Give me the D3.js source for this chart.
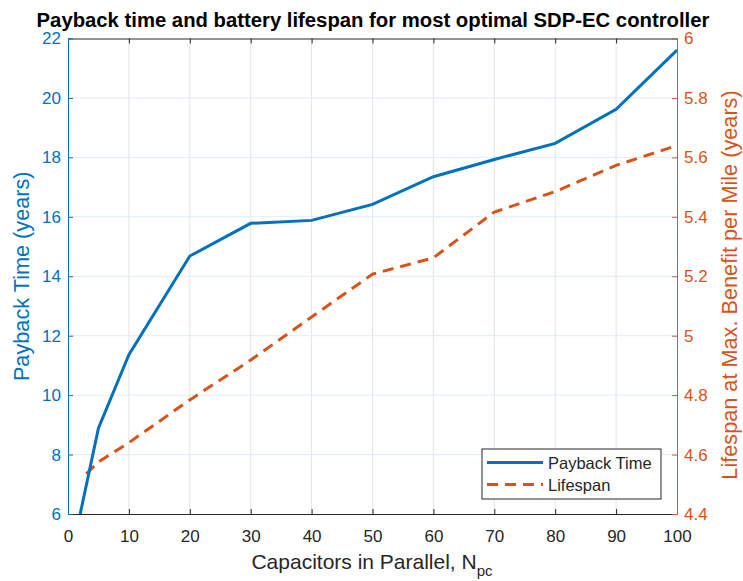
<!DOCTYPE html>
<html>
<head>
<meta charset="utf-8">
<script src="https://cdn.jsdelivr.net/npm/d3@7"></script>
<style>
  body { margin: 0; background: #fff; }
  text { font-family: "Liberation Sans", Arial, Helvetica, sans-serif; }
</style>
</head>
<body>
<svg id="chart" width="743" height="581"></svg>
<script>
// Data.
var paybackN = [2, 5, 10, 20, 30, 40, 50, 60, 70, 80, 90, 100];
var paybackTime = [6.0, 8.89, 11.36, 14.68, 15.78, 15.88, 16.42, 17.35, 17.93, 18.47, 19.62, 21.61];
var lifespanN = [3, 5, 10, 20, 30, 40, 50, 60, 70, 80, 90, 100];
var lifespanYears = [4.535, 4.575, 4.64, 4.784, 4.918, 5.063, 5.207, 5.262, 5.416, 5.485, 5.573, 5.64];
var xTicks = [0, 10, 20, 30, 40, 50, 60, 70, 80, 90, 100];
var leftTicks = [6, 8, 10, 12, 14, 16, 18, 20, 22];
var rightTicks = [4.4, 4.6, 4.8, 5, 5.2, 5.4, 5.6, 5.8, 6];
var legendNames = ['Payback Time', 'Lifespan'];

var BLUE = '#0072BD';
var ORANGE = '#D95319';
var DARK = '#262626';

var svg = d3.select('#chart');
var margin = {left: 68, right: 66, top: 38.5, bottom: 67};
var W = 743, H = 581;

var x = d3.scaleLinear().domain([0, 100]).range([margin.left, W - margin.right]);
var yL = d3.scaleLinear().domain([6, 22]).range([H - margin.bottom, margin.top]);
var yR = d3.scaleLinear().domain([4.4, 6]).range([H - margin.bottom, margin.top]);

var x0 = margin.left, x1 = W - margin.right;
var y0 = H - margin.bottom, y1 = margin.top;

// Grid lines.
svg.append('g').selectAll('line').data(xTicks.slice(1, -1)).enter().append('line')
  .attr('x1', function(d){ return x(d); }).attr('x2', function(d){ return x(d); })
  .attr('y1', y0).attr('y2', y1)
  .attr('stroke', '#e2e4e8').attr('stroke-width', 1);
svg.append('g').selectAll('line').data(leftTicks.slice(1, -1)).enter().append('line')
  .attr('x1', x0).attr('x2', x1)
  .attr('y1', function(d){ return yL(d); }).attr('y2', function(d){ return yL(d); })
  .attr('stroke', '#e0ebf4').attr('stroke-width', 1);

// Clip to plot area.
svg.append('clipPath').attr('id', 'clip').append('rect')
  .attr('x', x0).attr('y', y1).attr('width', x1 - x0).attr('height', y0 - y1);

var plot = svg.append('g').attr('clip-path', 'url(#clip)');

var lineL = d3.line()
  .x(function(d, i){ return x(paybackN[i]); })
  .y(function(d){ return yL(d); });
var lineR = d3.line()
  .x(function(d, i){ return x(lifespanN[i]); })
  .y(function(d){ return yR(d); });

plot.append('path').datum(lifespanYears)
  .attr('d', lineR).attr('fill', 'none')
  .attr('stroke', ORANGE).attr('stroke-width', 3)
  .attr('stroke-dasharray', '11,7');
plot.append('path').datum(paybackTime)
  .attr('d', lineL).attr('fill', 'none')
  .attr('stroke', BLUE).attr('stroke-width', 3);

// Axes.
var xAxis = d3.axisBottom(x).tickValues(xTicks).tickSizeInner(-5).tickSizeOuter(0);
var gx = svg.append('g').attr('transform', 'translate(0,' + y0 + ')').call(xAxis);
gx.select('.domain').attr('stroke', DARK);
gx.selectAll('.tick line').attr('stroke', DARK);
gx.selectAll('text').attr('fill', DARK).style('font-size', '17px').attr('dy', '0.71em').attr('y', 16);

var xTop = d3.axisTop(x).tickValues(xTicks).tickSizeInner(-5).tickSizeOuter(0).tickFormat('');
var gxt = svg.append('g').attr('transform', 'translate(0,' + y1 + ')').call(xTop);
gxt.select('.domain').attr('stroke', DARK);
gxt.selectAll('.tick line').attr('stroke', DARK);

var leftAxis = d3.axisLeft(yL).tickValues(leftTicks).tickSizeInner(-5).tickSizeOuter(0).tickPadding(7);
var gl = svg.append('g').attr('transform', 'translate(' + x0 + ',0)').call(leftAxis);
gl.select('.domain').attr('stroke', BLUE);
gl.selectAll('.tick line').attr('stroke', BLUE);
gl.selectAll('text').attr('fill', BLUE).style('font-size', '17px');

var rightAxis = d3.axisRight(yR).tickValues(rightTicks).tickSizeInner(-5).tickSizeOuter(0).tickPadding(7)
  .tickFormat(function(d){ return d3.format('~g')(d); });
var gr = svg.append('g').attr('transform', 'translate(' + x1 + ',0)').call(rightAxis);
gr.select('.domain').attr('stroke', '#c0603a');
gr.selectAll('.tick line').attr('stroke', '#c0603a');
gr.selectAll('text').attr('fill', ORANGE).style('font-size', '17px');

// Title and labels.
svg.append('text').attr('x', 373).attr('y', 26.5)
  .attr('text-anchor', 'middle').style('font-size', '20.3px').style('font-weight', 'bold')
  .attr('fill', '#000')
  .text('Payback time and battery lifespan for most optimal SDP-EC controller');

var xl = svg.append('text').attr('x', 372).attr('y', 569)
  .attr('text-anchor', 'middle').style('font-size', '21px').attr('fill', DARK);
xl.append('tspan').text('Capacitors in Parallel, N');
xl.append('tspan').attr('dy', 7).style('font-size', '15px').text('pc');

svg.append('text').attr('transform', 'translate(28.5,' + ((y0 + y1) / 2) + ') rotate(-90)')
  .attr('text-anchor', 'middle').style('font-size', '21.7px').attr('fill', BLUE)
  .text('Payback Time (years)');
svg.append('text').attr('transform', 'translate(736.5,285) rotate(-90)')
  .attr('text-anchor', 'middle').style('font-size', '21.7px').attr('fill', ORANGE)
  .text('Lifespan at Max. Benefit per Mile (years)');

// Legend.
var lg = svg.append('g');
lg.append('rect').attr('x', 482).attr('y', 449).attr('width', 179).attr('height', 50)
  .attr('fill', '#fff').attr('stroke', DARK).attr('stroke-width', 1);
var legendColors = [BLUE, ORANGE];
var legendDash = [null, '11,7'];
legendNames.forEach(function(name, i) {
  var ly = 462.5 + i * 22;
  lg.append('line').attr('x1', 487).attr('x2', 543).attr('y1', ly).attr('y2', ly)
    .attr('stroke', legendColors[i]).attr('stroke-width', 3)
    .attr('stroke-dasharray', legendDash[i]);
  lg.append('text').attr('x', 548).attr('y', ly + 6)
    .style('font-size', '16.5px').attr('fill', DARK).text(name);
});
</script>
</body>
</html>
